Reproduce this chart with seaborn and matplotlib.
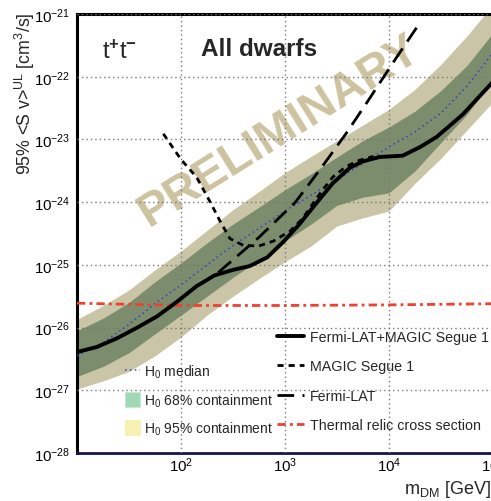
import numpy as np
import pandas as pd
import seaborn as sns
import matplotlib
matplotlib.use("Agg")
import matplotlib.pyplot as plt
from matplotlib.lines import Line2D
from matplotlib.patches import Patch
from matplotlib.ticker import LogLocator, FuncFormatter, NullFormatter

# ---------------------------------------------------------------- data
# dark-matter mass grid for the null-hypothesis bands [GeV]
band_mass = [10, 17.8, 31.6, 56.2, 100, 178, 316, 562, 1000, 1780, 3160,
             5620, 10000, 17800, 31600, 56200, 100000]
h0_median = [3.55e-27, 5.75e-27, 1.12e-26, 2.40e-26, 4.79e-26, 1.0e-25,
             2.04e-25, 3.80e-25, 7.24e-25, 1.29e-24, 2.29e-24, 4.17e-24,
             7.59e-24, 1.32e-23, 2.63e-23, 7.08e-23, 2.40e-22]
h0_68_hi = [8.91e-27, 1.41e-26, 2.51e-26, 5.37e-26, 1.07e-25, 2.24e-25,
            4.47e-25, 8.32e-25, 1.58e-24, 2.82e-24, 5.25e-24, 9.55e-24,
            1.58e-23, 2.82e-23, 6.03e-23, 1.51e-22, 5.01e-22]
h0_68_lo = [1.66e-27, 2.40e-27, 3.98e-27, 7.94e-27, 1.58e-26, 3.16e-26,
            6.31e-26, 1.20e-25, 2.40e-25, 4.47e-25, 8.91e-25, 1.20e-24,
            1.41e-24, 3.16e-24, 8.91e-24, 2.51e-23, 8.91e-23]
h0_95_hi = [1.35e-26, 2.24e-26, 3.98e-26, 8.32e-26, 1.66e-25, 3.55e-25,
            7.59e-25, 1.48e-24, 2.95e-24, 5.37e-24, 9.55e-24, 1.70e-23,
            3.02e-23, 6.31e-23, 1.58e-22, 4.47e-22, 1.41e-21]
h0_95_lo = [1.05e-27, 1.41e-27, 2.0e-27, 3.55e-27, 7.08e-27, 1.58e-26,
            3.16e-26, 6.03e-26, 1.12e-25, 2.0e-25, 4.17e-25, 5.62e-25,
            7.24e-25, 2.0e-24, 5.01e-24, 1.41e-23, 3.98e-23]

# combined Fermi-LAT + MAGIC Segue 1 limit
comb_mass = [10, 15.5, 24.3, 38, 58.9, 91.2, 141, 209, 316, 457, 676, 955,
             1380, 2040, 2880, 4220, 5620, 8130, 13500, 20000, 28800,
             51300, 100000]
comb_sv = [4.07e-27, 4.90e-27, 6.76e-27, 1.0e-26, 1.51e-26, 2.57e-26,
           4.57e-26, 6.76e-26, 8.32e-26, 9.55e-26, 1.32e-25, 2.29e-25,
           4.47e-25, 1.0e-24, 2.0e-24, 3.55e-24, 4.47e-24, 5.25e-24,
           5.50e-24, 7.59e-24, 1.10e-23, 2.51e-23, 8.32e-23]

# MAGIC Segue 1 alone
magic_mass = [67.6, 100, 141, 191, 237, 295, 398, 562, 776, 1120, 1480,
              1860, 2340, 2880, 3890, 5250, 7080]
magic_sv = [1.23e-23, 4.79e-24, 2.51e-24, 1.0e-24, 5.01e-25, 2.63e-25,
            2.04e-25, 2.0e-25, 2.40e-25, 3.47e-25, 5.50e-25, 9.55e-25,
            1.62e-24, 2.51e-24, 3.72e-24, 4.68e-24, 5.37e-24]

# Fermi-LAT dwarfs alone
fermi_mass = [229, 562, 1260, 2240, 3890, 6310, 11200, 20000]
fermi_sv = [7.59e-26, 2.75e-25, 1.0e-24, 3.55e-24, 1.26e-23, 4.17e-23,
            1.78e-22, 7.41e-22]

# thermal relic cross section
relic_mass = [10, 30, 100, 1000, 10000, 100000]
relic_sv = [2.45e-26, 2.35e-26, 2.25e-26, 2.25e-26, 2.3e-26, 2.4e-26]

x_tick_exponents = [2, 3, 4, 5]
y_tick_exponents = [-28, -27, -26, -25, -24, -23, -22, -21]

channel_label = "t$^{\\mathbf{+}}$t$^{\\mathbf{-}}$"
title_label = "All dwarfs"
watermark = "PRELIMINARY"

# ---------------------------------------------------------------- style
sns.set_style("white")
plt.rcParams["font.family"] = ["Liberation Sans", "DejaVu Sans"]
plt.rcParams["mathtext.fontset"] = "custom"
plt.rcParams["mathtext.rm"] = "Liberation Sans"
plt.rcParams["mathtext.it"] = "Liberation Sans:italic"
plt.rcParams["mathtext.bf"] = "Liberation Sans:bold"

C95 = "#c9c5a6"
C68 = "#7b8d6c"
CMED = "#3b3bc8"
CRELIC = "#ef4030"
CWM = "#cdc3a0"

LS_MED = (0, (1, 2.2))
LS_RELIC = (0, (3, 1.5, 1, 1.5))
LS_FERMI = (0, (6, 3))
LS_MAGIC = (0, (2.2, 1.8))

fig = plt.figure(figsize=(4.91, 5.02), dpi=100)
ax = fig.add_axes([77 / 491, 1 - 454 / 502, 416 / 491, 439 / 502])
ax.set_xscale("log")
ax.set_yscale("log")

bands = pd.DataFrame({"m": band_mass, "med": h0_median,
                      "lo68": h0_68_lo, "hi68": h0_68_hi,
                      "lo95": h0_95_lo, "hi95": h0_95_hi})
ax.fill_between(bands["m"], bands["lo95"], bands["hi95"], color=C95,
                lw=0, zorder=1)
ax.fill_between(bands["m"], bands["lo68"], bands["hi68"], color=C68,
                lw=0, zorder=1.5)

ax.grid(True, which="major", color="#777777", ls=(0, (1.0, 2.2)), lw=1.0,
        zorder=2)
ax.set_axisbelow(False)

ax.text(280 / 491, 1 - 131 / 502, watermark, transform=fig.transFigure,
        rotation=32, rotation_mode="anchor", ha="center", va="center",
        fontsize=34, fontweight="bold", color=CWM, zorder=2.5)

sns.lineplot(data=bands, x="m", y="med", ax=ax, color=CMED, lw=1.1,
             ls=LS_MED, estimator=None, sort=False, zorder=3)
sns.lineplot(x=relic_mass, y=relic_sv, ax=ax, color=CRELIC, lw=2.0,
             ls=LS_RELIC, estimator=None, sort=False, zorder=3)
sns.lineplot(x=fermi_mass, y=fermi_sv, ax=ax, color="black", lw=2.0,
             ls=LS_FERMI, estimator=None, sort=False, zorder=4)
sns.lineplot(x=magic_mass, y=magic_sv, ax=ax, color="black", lw=2.0,
             ls=LS_MAGIC, estimator=None, sort=False, zorder=4)
sns.lineplot(x=comb_mass, y=comb_sv, ax=ax, color="black", lw=2.8,
             estimator=None, sort=False, zorder=5)

ax.set_xlim(10, 1e5)
ax.set_ylim(1e-28, 1e-21)

# ---------------------------------------------------------------- axes
ax.set_xticks([10.0 ** e for e in x_tick_exponents])
ax.set_yticks([10.0 ** e for e in y_tick_exponents])
ax.xaxis.set_minor_locator(LogLocator(base=10, subs=np.arange(2, 10), numticks=20))
ax.yaxis.set_minor_locator(LogLocator(base=10, subs=np.arange(2, 10), numticks=20))
fmt = FuncFormatter(lambda v, p: "10$^{%d}$" % int(round(np.log10(v))))
ax.xaxis.set_major_formatter(fmt)
ax.yaxis.set_major_formatter(fmt)
ax.xaxis.set_minor_formatter(NullFormatter())
ax.yaxis.set_minor_formatter(NullFormatter())
ax.tick_params(axis="both", which="both", direction="in", colors="black",
               labelsize=10.8)
ax.tick_params(axis="y", which="major", length=9, width=1.4, pad=5)
ax.tick_params(axis="y", which="minor", length=5, width=1.2)
ax.tick_params(axis="x", which="major", length=13, width=1.4, pad=1.5)
ax.tick_params(axis="x", which="minor", length=7, width=1.2)
for s in ["left", "top"]:
    ax.spines[s].set_linewidth(2.2)
    ax.spines[s].set_color("black")
ax.spines["bottom"].set_linewidth(2.0)
ax.spines["bottom"].set_color("#14144a")
ax.spines["right"].set_visible(False)
ax.set_xlabel("")
ax.set_ylabel("")

fig.text(25 / 491, 1 - 12 / 502,
         "95% <S v>$^{\\mathregular{UL}}$ [cm$^{\\mathregular{3}}$/s]",
         rotation=90, ha="center", va="top", fontsize=12.8)
fig.text(491 / 491, 1 - 500 / 502, "m$_{\\mathregular{DM}}$ [GeV]",
         ha="right", va="bottom", fontsize=13)

ax.text(119 / 491, 1 - 52 / 502, channel_label, transform=fig.transFigure,
        ha="center", va="center", fontsize=17)
ax.text(259 / 491, 1 - 50 / 502, title_label, transform=fig.transFigure,
        ha="center", va="center", fontsize=17.5, fontweight="bold")

# ---------------------------------------------------------------- legends
h_left = [Line2D([], [], color=CMED, lw=1.1, ls=LS_MED),
          Patch(facecolor="#a0d8b4", edgecolor="#c6e9d2", lw=0.8),
          Patch(facecolor="#f7f1b6", edgecolor="#f7f1b6", lw=0.8)]
l_left = ["H$_0$ median", "H$_0$ 68% containment", "H$_0$ 95% containment"]
leg1 = fig.legend(h_left, l_left, loc="upper left",
                  bbox_to_anchor=(125 / 491, 1 - 364 / 502), frameon=False,
                  fontsize=10, handlelength=1.1, handleheight=1.3,
                  handletextpad=0.3, labelspacing=0.78, borderpad=0,
                  borderaxespad=0)

h_right = [Line2D([], [], color="black", lw=2.8),
           Line2D([], [], color="black", lw=2.0, ls=LS_MAGIC),
           Line2D([], [], color="black", lw=2.0, ls=LS_FERMI),
           Line2D([], [], color=CRELIC, lw=2.0, ls=LS_RELIC)]
l_right = ["Fermi-LAT+MAGIC Segue 1", "MAGIC Segue 1", "Fermi-LAT",
           "Thermal relic cross section"]
leg2 = fig.legend(h_right, l_right, loc="upper left",
                  bbox_to_anchor=(277 / 491, 1 - 331 / 502), frameon=False,
                  fontsize=10.3, handlelength=1.9, handletextpad=0.4,
                  labelspacing=1.08, borderpad=0, borderaxespad=0)

fig.savefig("out.png", dpi=100)
